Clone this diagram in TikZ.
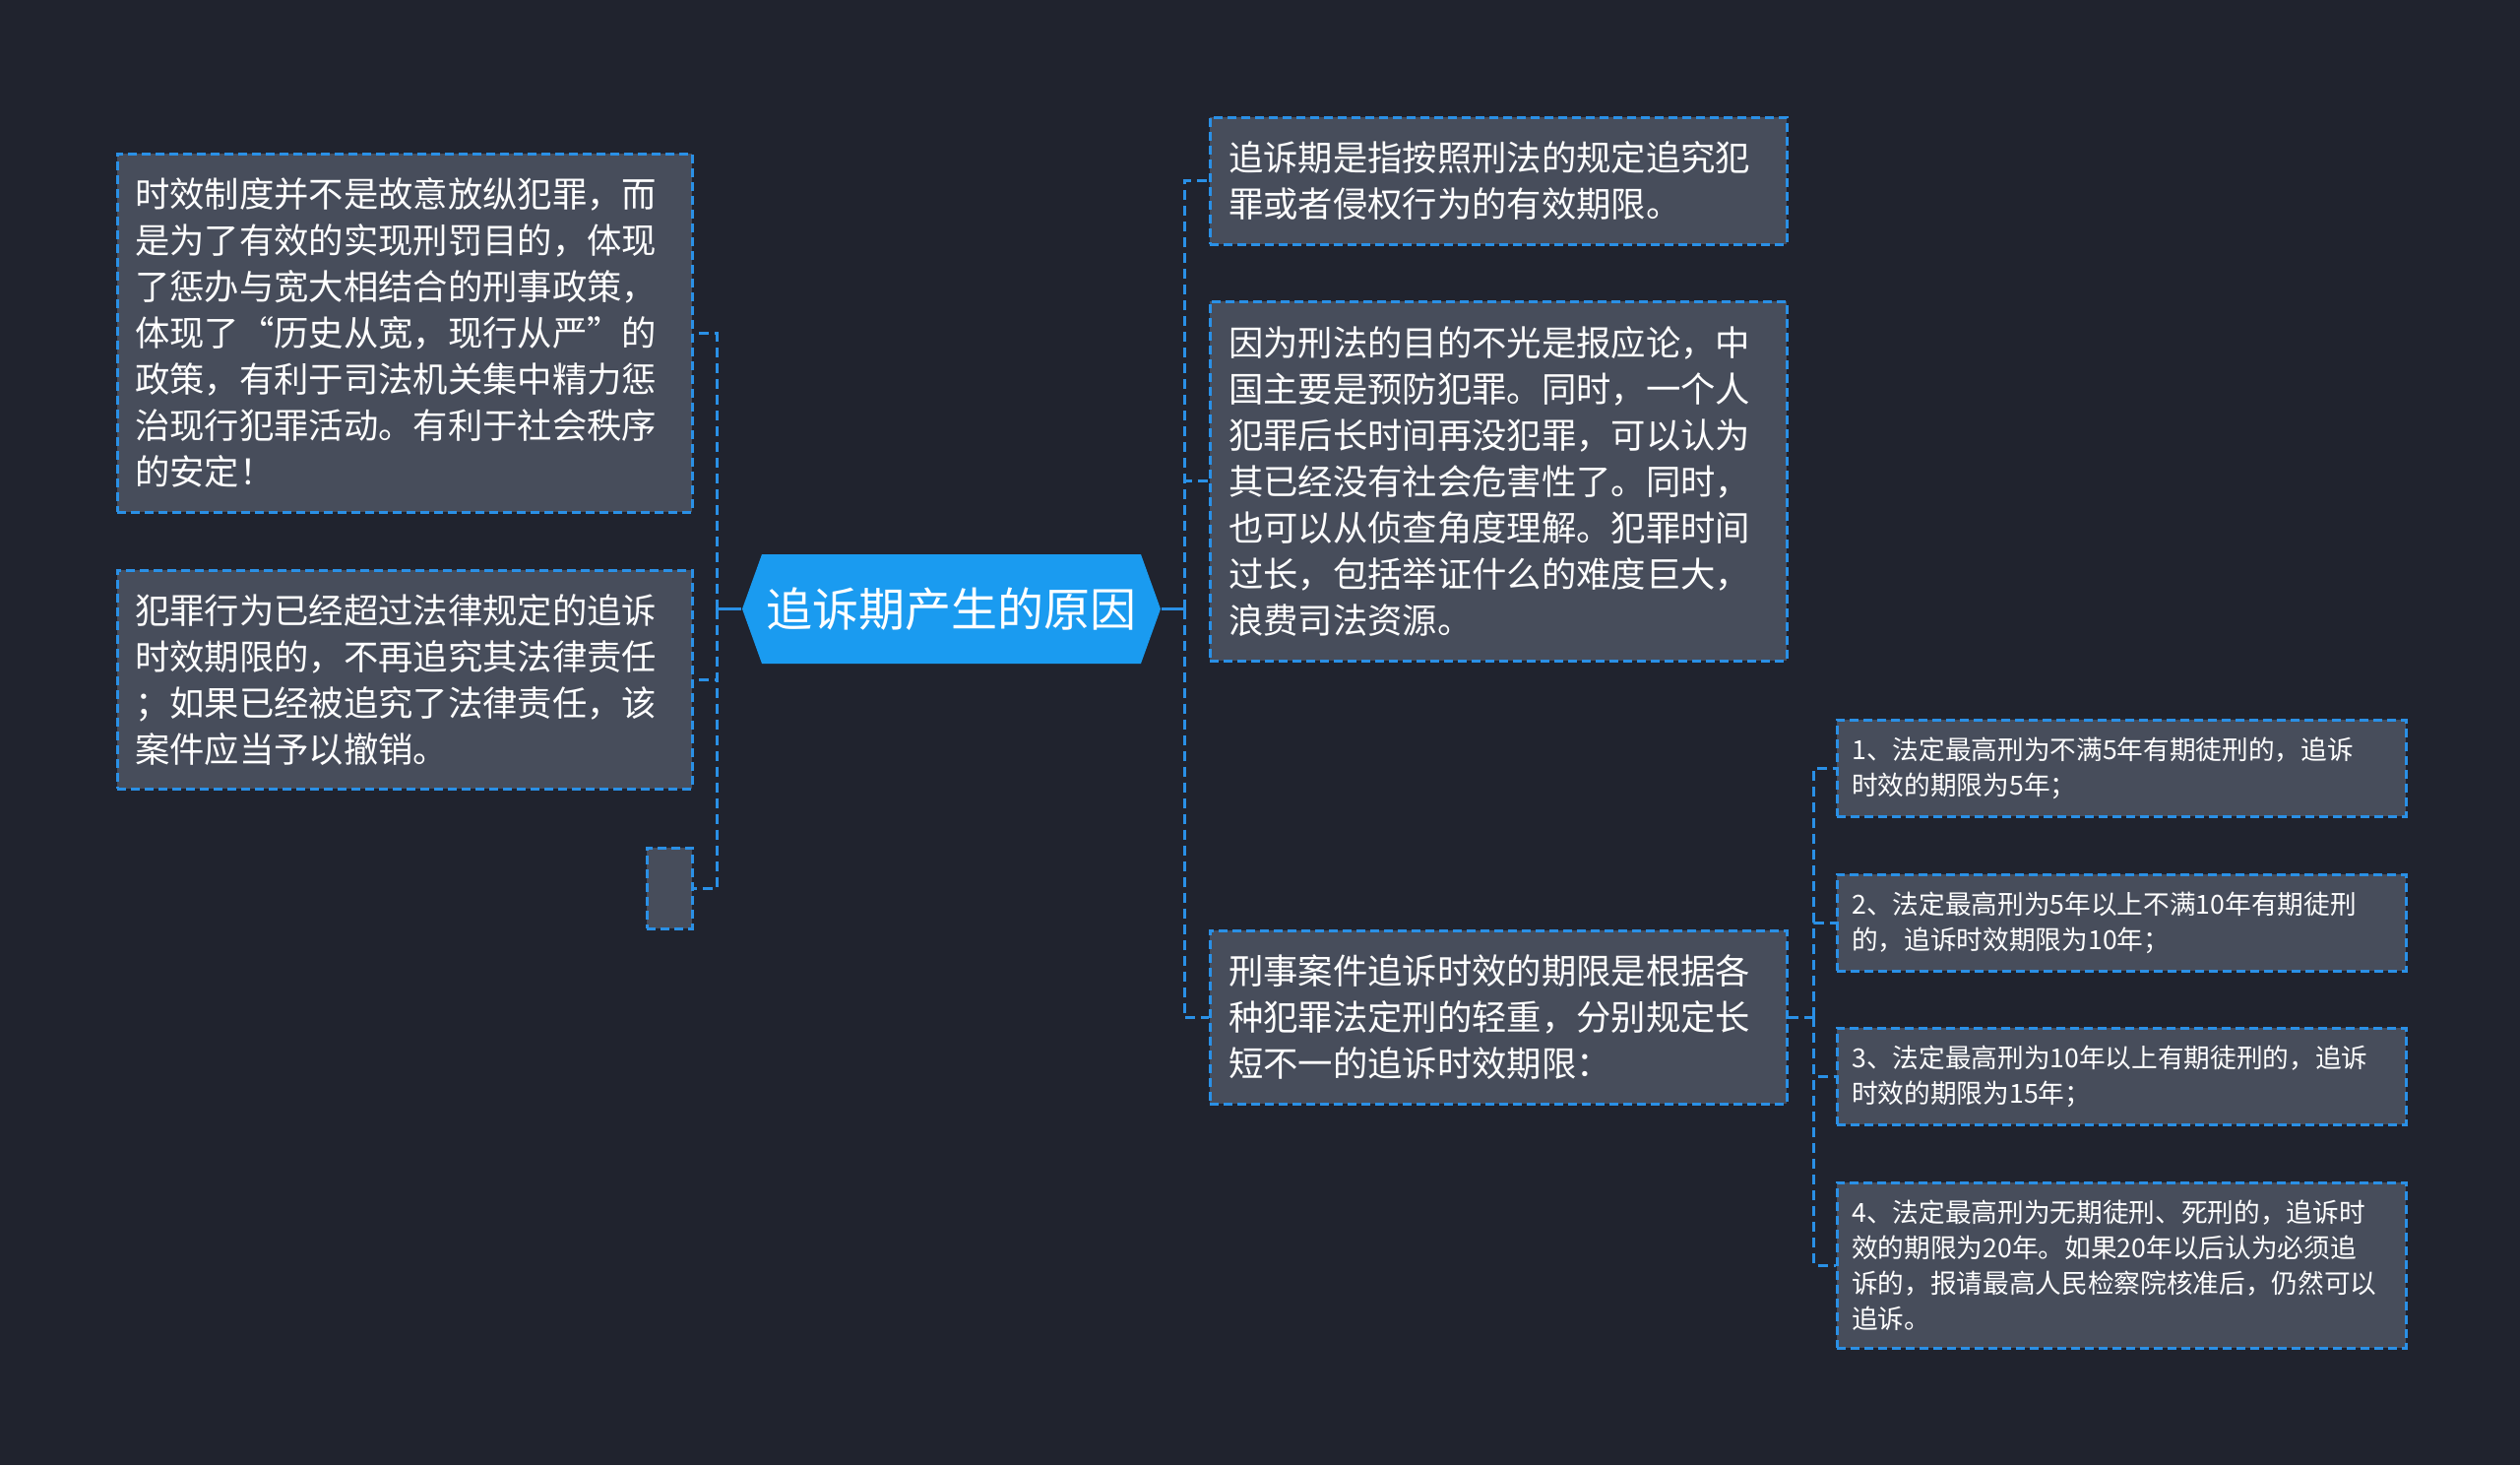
\documentclass[tikz,border=0pt]{standalone}
\usepackage{fontspec}
\setmainfont{Noto Sans CJK SC}
\definecolor{bg}{HTML}{20232E}
\definecolor{boxfill}{HTML}{474D5B}
\definecolor{lineblue}{HTML}{2A90E6}
\definecolor{cfill}{HTML}{1A9BF0}
\newcommand\bigtxt{\fontsize{10.6pt}{14.1pt}\selectfont}
\newcommand\smalltxt{\fontsize{8pt}{10.8pt}\selectfont}
\newcommand\centertxt{\fontsize{14.1pt}{16pt}\selectfont}
\begin{document}
\begin{tikzpicture}[x=0.3pt,y=-0.3pt,
  box/.style={draw=lineblue, fill=boxfill, line width=0.75pt, dash pattern=on 2.7pt off 1.5pt,
    anchor=north west, inner xsep=5.4pt, inner ysep=0pt, align=left, text=white,
    font=\bigtxt, text width=164.4pt, minimum width=175.2pt},
  sub/.style={box, font=\smalltxt, inner xsep=4.5pt, text width=164.4pt, minimum width=173.4pt},
  conn/.style={draw=lineblue, line width=0.9pt, dash pattern=on 3pt off 1.8pt},
  connsolid/.style={draw=lineblue, line width=1pt}]
\fill[bg] (0,0) rectangle (2560,1488);
\useasboundingbox (0,0) rectangle (2560,1488);

% central node
\node (c) [minimum width=127.5pt, minimum height=33.3pt, inner sep=0pt, text=white, font=\centertxt,
  path picture={\fill[cfill] (path picture bounding box.west) -- ([xshift=6pt]path picture bounding box.north west)
   -- ([xshift=-6pt]path picture bounding box.north east) -- (path picture bounding box.east)
   -- ([xshift=-6pt]path picture bounding box.south east) -- ([xshift=6pt]path picture bounding box.south west) -- cycle;}]
  at (966.5,618.5) {追诉期产生的原因};

% left boxes
\node (b1) [box, minimum height=109.2pt] at (118,155) {时效制度并不是故意放纵犯罪，而\\是为了有效的实现刑罚目的，体现\\了惩办与宽大相结合的刑事政策，\\体现了“历史从宽，现行从严”的\\政策，有利于司法机关集中精力惩\\治现行犯罪活动。有利于社会秩序\\的安定！};
\node (b2) [box, minimum height=66.6pt] at (118,578) {犯罪行为已经超过法律规定的追诉\\时效期限的，不再追究其法律责任\\；如果已经被追究了法律责任，该\\案件应当予以撤销。};
\node (b3) [box, text width=0pt, inner xsep=0pt, minimum width=13.8pt, minimum height=24.6pt] at (656,860) {};

% right boxes
\node (r1) [box, minimum width=175.8pt, minimum height=38.7pt] at (1228,118) {追诉期是指按照刑法的规定追究犯\\罪或者侵权行为的有效期限。};
\node (r2) [box, minimum width=175.8pt, minimum height=109.5pt] at (1228,305) {因为刑法的目的不光是报应论，中\\国主要是预防犯罪。同时，一个人\\犯罪后长时间再没犯罪，可以认为\\其已经没有社会危害性了。同时，\\也可以从侦查角度理解。犯罪时间\\过长，包括举证什么的难度巨大，\\浪费司法资源。};
\node (r3) [box, minimum width=175.8pt, minimum height=52.8pt] at (1228,944) {刑事案件追诉时效的期限是根据各\\种犯罪法定刑的轻重，分别规定长\\短不一的追诉时效期限：};

% sub boxes
\node (s1) [sub, minimum height=29.4pt] at (1865,730) {1、法定最高刑为不满5年有期徒刑的，追诉\\时效的期限为5年；};
\node (s2) [sub, minimum height=29.4pt] at (1865,887) {2、法定最高刑为5年以上不满10年有期徒刑\\的，追诉时效期限为10年；};
\node (s3) [sub, minimum height=29.4pt] at (1865,1043) {3、法定最高刑为10年以上有期徒刑的，追诉\\时效的期限为15年；};
\node (s4) [sub, minimum height=50.4pt] at (1865,1200) {4、法定最高刑为无期徒刑、死刑的，追诉时\\效的期限为20年。如果20年以后认为必须追\\诉的，报请最高人民检察院核准后，仍然可以\\追诉。};

% connectors
\coordinate (lb) at (728,618.5);
\coordinate (rb) at (1203,618.5);
\draw[connsolid] (c.west) -- (lb);
\draw[connsolid] (c.east) -- (rb);
\draw[conn] (lb) |- (b1.east);
\draw[conn] (lb) |- (b2.east);
\draw[conn] (lb) |- (b3.east);
\draw[conn] (rb) |- (r1.west);
\draw[conn] (rb) |- (r2.west);
\draw[conn] (rb) |- (r3.west);
\path (r3.east) ++(26,0) coordinate (sb);
\draw[conn] (r3.east) -- (sb);
\draw[conn] (sb) |- (s1.west);
\draw[conn] (sb) |- (s2.west);
\draw[conn] (sb) |- (s3.west);
\draw[conn] (sb) |- (s4.west);
\end{tikzpicture}
\end{document}
